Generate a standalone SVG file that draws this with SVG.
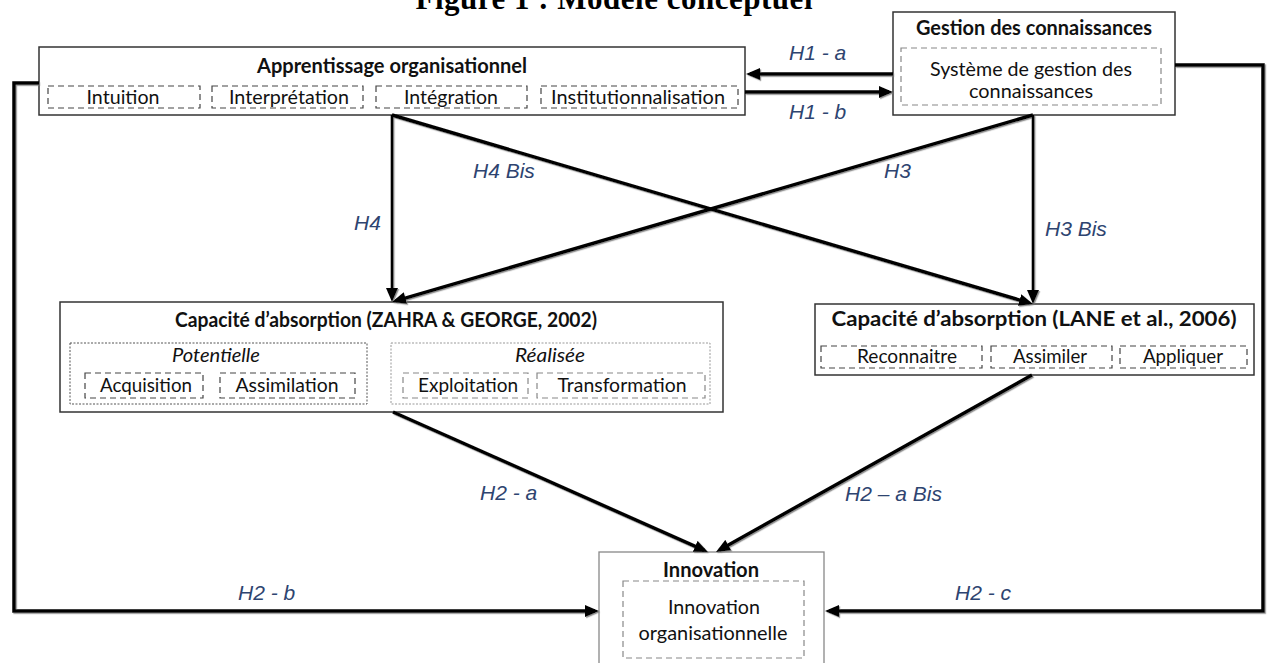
<svg xmlns="http://www.w3.org/2000/svg" width="1269" height="663" viewBox="0 0 1269 663">
<defs>
<style>
.box{fill:#fff;stroke:#333;stroke-width:1.5}
.boxl{fill:#fff;stroke:#888;stroke-width:1.3}
.t{font-family:Lato,"Liberation Sans",sans-serif;font-size:20px;fill:#111;text-anchor:middle}
.b{font-weight:bold}
.i{font-style:italic}
.sub{fill:none;stroke:#444;stroke-width:1.2;stroke-dasharray:6 4}
.subl{fill:none;stroke:#888;stroke-width:1.2;stroke-dasharray:6 4}
.dot{fill:none;stroke:#555;stroke-width:1;stroke-dasharray:2 1.5}
.dotl{fill:none;stroke:#999;stroke-width:1;stroke-dasharray:2 1.5}
.lbl{font-family:"Liberation Sans",Arial,sans-serif;font-style:italic;font-size:21px;fill:#2E4470}
.c{fill:none;stroke:#000;stroke-width:3.5;marker-end:url(#ah)}
.cv{fill:none;stroke:#000;stroke-width:2.6;marker-end:url(#ah)}
</style>
<marker id="ah" markerUnits="userSpaceOnUse" markerWidth="14" markerHeight="12" viewBox="0 0 14 12" refX="10" refY="6" orient="auto"><path d="M0,0 L14,6 L0,12 z" fill="#000"/></marker>
<filter id="sh" x="-5%" y="-5%" width="110%" height="110%"><feDropShadow dx="1.2" dy="1.2" stdDeviation="0.6" flood-color="#777" flood-opacity="0.8"/></filter>
</defs>
<rect width="1269" height="663" fill="#fff"/>
<text x="614" y="9" font-family="Liberation Serif,serif" font-weight="bold" font-size="31" text-anchor="middle" textLength="397" fill="#000">Figure 1 : Modèle conceptuel</text>

<g id="apprentissage">
<rect class="box" x="39" y="47" width="706" height="68"/>
<text class="t b" x="392" y="73" textLength="270" lengthAdjust="spacingAndGlyphs">Apprentissage organisationnel</text>
<rect class="sub" x="48" y="86" width="152" height="22"/>
<text class="t" x="123" y="104" textLength="73" lengthAdjust="spacingAndGlyphs">Intuition</text>
<rect class="sub" x="212" y="86" width="151" height="22"/>
<text class="t" x="289" y="104" textLength="120" lengthAdjust="spacingAndGlyphs">Interprétation</text>
<rect class="sub" x="376" y="86" width="151" height="22"/>
<text class="t" x="451" y="104" textLength="94" lengthAdjust="spacingAndGlyphs">Intégration</text>
<rect class="sub" x="541" y="86" width="197" height="22"/>
<text class="t" x="638" y="104" textLength="174" lengthAdjust="spacingAndGlyphs">Institutionnalisation</text>
</g>

<g id="gestion">
<rect class="box" x="893" y="12" width="282" height="103"/>
<text class="t b" x="1034" y="35" textLength="236" lengthAdjust="spacingAndGlyphs">Gestion des connaissances</text>
<rect class="subl" x="901" y="48" width="260" height="57"/>
<text class="t" x="1031" y="76" textLength="202" lengthAdjust="spacingAndGlyphs">Système de gestion des</text>
<text class="t" x="1031" y="98" textLength="124" lengthAdjust="spacingAndGlyphs">connaissances</text>
</g>

<g id="zahra">
<rect class="box" x="60" y="302" width="663" height="110"/>
<text class="t b" x="386" y="327" textLength="422" lengthAdjust="spacingAndGlyphs">Capacité d’absorption (ZAHRA &amp; GEORGE, 2002)</text>
<rect class="dot" x="70" y="343" width="297" height="61"/>
<text class="t i" x="216" y="362" textLength="88" lengthAdjust="spacingAndGlyphs">Potentielle</text>
<rect class="sub" x="85" y="373" width="118" height="25"/>
<text class="t" x="146" y="392" textLength="92" lengthAdjust="spacingAndGlyphs">Acquisition</text>
<rect class="sub" x="220" y="373" width="135" height="25"/>
<text class="t" x="287" y="392" textLength="103" lengthAdjust="spacingAndGlyphs">Assimilation</text>
<rect class="dotl" x="391" y="343" width="319" height="61"/>
<text class="t i" x="550" y="362" textLength="70" lengthAdjust="spacingAndGlyphs">Réalisée</text>
<rect class="subl" x="403" y="373" width="125" height="25"/>
<text class="t" x="468" y="392" textLength="100" lengthAdjust="spacingAndGlyphs">Exploitation</text>
<rect class="subl" x="537" y="373" width="168" height="25"/>
<text class="t" x="622" y="392" textLength="129" lengthAdjust="spacingAndGlyphs">Transformation</text>
</g>

<g id="lane">
<rect class="box" x="815" y="304" width="439" height="71"/>
<text class="t b" x="1034" y="326" textLength="405" lengthAdjust="spacingAndGlyphs">Capacité d’absorption (LANE et al., 2006)</text>
<rect class="sub" x="821" y="346" width="161" height="22"/>
<text class="t" x="907" y="363" textLength="100" lengthAdjust="spacingAndGlyphs">Reconnaitre</text>
<rect class="sub" x="991" y="346" width="121" height="22"/>
<text class="t" x="1050" y="363" textLength="74" lengthAdjust="spacingAndGlyphs">Assimiler</text>
<rect class="sub" x="1120" y="346" width="127" height="22"/>
<text class="t" x="1183" y="363" textLength="80" lengthAdjust="spacingAndGlyphs">Appliquer</text>
</g>

<g id="innovation">
<rect class="boxl" x="599" y="552" width="225" height="125"/>
<text class="t b" x="711" y="577" textLength="96" lengthAdjust="spacingAndGlyphs">Innovation</text>
<rect class="subl" x="623" y="581" width="181" height="77"/>
<text class="t" x="714" y="614" textLength="92" lengthAdjust="spacingAndGlyphs">Innovation</text>
<text class="t" x="713" y="640" textLength="149" lengthAdjust="spacingAndGlyphs">organisationnelle</text>
</g>

<g id="connectors">
<g filter="url(#sh)">
<line class="c" x1="893" y1="74" x2="750" y2="74"/>
<line class="c" x1="745" y1="92" x2="889" y2="92"/>
<polyline class="c" points="39,83 14,83 14,611 595,611"/>
<polyline class="c" points="1175,65 1263,65 1263,611 829,611"/>
<line class="cv" x1="392" y1="115" x2="392" y2="298"/>
<line class="cv" x1="1033" y1="115" x2="1033" y2="300"/>
<line class="c" x1="392" y1="115" x2="1029.2" y2="302.9"/>
<line class="c" x1="1033" y1="115" x2="395.8" y2="300.9"/>
<line class="c" x1="393" y1="412" x2="704.3" y2="550.4"/>
<line class="c" x1="1032" y1="375" x2="719.5" y2="550"/>
</g>
<g id="labels">
<text class="lbl" x="789" y="60">H1 - a</text>
<text class="lbl" x="789" y="119">H1 - b</text>
<text class="lbl" x="473" y="178">H4 Bis</text>
<text class="lbl" x="884" y="178">H3</text>
<text class="lbl" x="354" y="230">H4</text>
<text class="lbl" x="1045" y="236">H3 Bis</text>
<text class="lbl" x="480" y="500">H2 - a</text>
<text class="lbl" x="845" y="501">H2 – a Bis</text>
<text class="lbl" x="238" y="600">H2 - b</text>
<text class="lbl" x="955" y="600">H2 - c</text>
</g>
</g>
</svg>
